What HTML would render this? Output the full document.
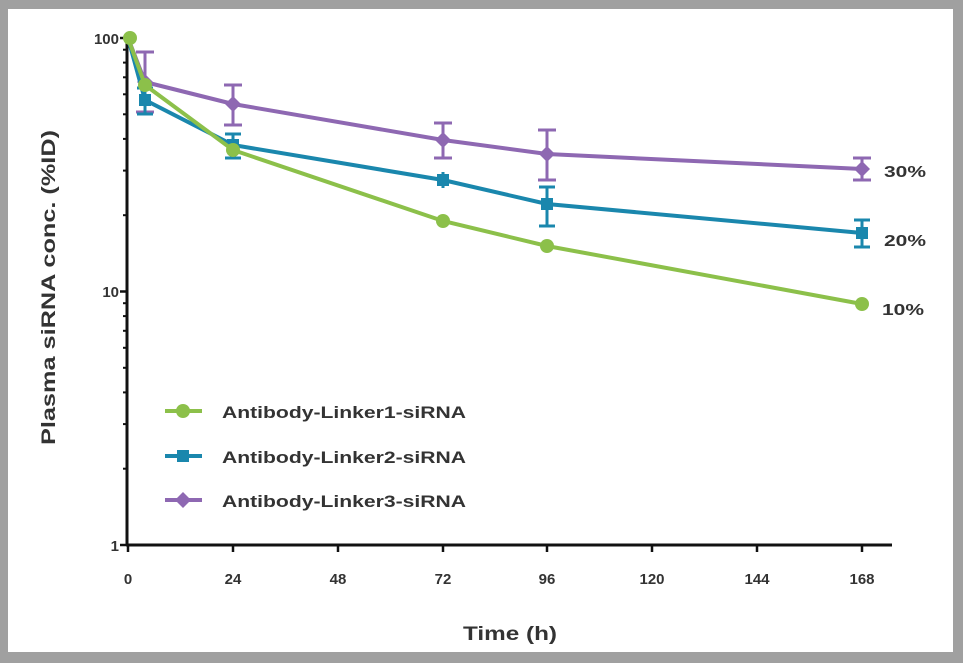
<!DOCTYPE html>
<html><head><meta charset="utf-8"><style>
html,body{margin:0;padding:0;background:#fff}
svg{display:block}
text{font-family:"Liberation Sans",sans-serif;font-weight:bold;fill:#333}
</style></head><body>
<svg width="963" height="663" viewBox="0 0 963 663" xmlns="http://www.w3.org/2000/svg">
<rect x="0" y="0" width="963" height="663" fill="#a0a0a0"/>
<rect x="8" y="9" width="945" height="643" fill="#fff"/>
<g stroke="#111" stroke-width="3" fill="none">
<line x1="127" y1="37" x2="127" y2="546"/>
<line x1="126" y1="545" x2="892" y2="545"/>
</g>
<g stroke="#111" stroke-width="2.5">
<line x1="120" y1="38" x2="127" y2="38"/>
<line x1="120" y1="291.5" x2="127" y2="291.5"/>
<line x1="120" y1="545" x2="127" y2="545"/>
<line x1="128" y1="545" x2="128" y2="552"/>
<line x1="233" y1="545" x2="233" y2="552"/>
<line x1="338" y1="545" x2="338" y2="552"/>
<line x1="443" y1="545" x2="443" y2="552"/>
<line x1="547" y1="545" x2="547" y2="552"/>
<line x1="652" y1="545" x2="652" y2="552"/>
<line x1="757" y1="545" x2="757" y2="552"/>
<line x1="862" y1="545" x2="862" y2="552"/>
</g>
<g stroke="#111" stroke-width="2">
<line x1="123" y1="468.7" x2="127" y2="468.7"/><line x1="123" y1="424.1" x2="127" y2="424.1"/>
<line x1="123" y1="392.4" x2="127" y2="392.4"/><line x1="123" y1="367.8" x2="127" y2="367.8"/>
<line x1="123" y1="347.8" x2="127" y2="347.8"/><line x1="123" y1="330.8" x2="127" y2="330.8"/>
<line x1="123" y1="316.1" x2="127" y2="316.1"/><line x1="123" y1="303.2" x2="127" y2="303.2"/>
<line x1="123" y1="215.2" x2="127" y2="215.2"/><line x1="123" y1="170.6" x2="127" y2="170.6"/>
<line x1="123" y1="138.9" x2="127" y2="138.9"/><line x1="123" y1="114.3" x2="127" y2="114.3"/>
<line x1="123" y1="94.3" x2="127" y2="94.3"/><line x1="123" y1="77.3" x2="127" y2="77.3"/>
<line x1="123" y1="62.6" x2="127" y2="62.6"/><line x1="123" y1="49.7" x2="127" y2="49.7"/>
</g>
<g font-size="15" text-anchor="end">
<text x="119" y="44">100</text>
<text x="119" y="297">10</text>
<text x="119" y="551">1</text>
</g>
<g font-size="15" text-anchor="middle">
<text x="128" y="584">0</text><text x="233" y="584">24</text><text x="338" y="584">48</text>
<text x="443" y="584">72</text><text x="547" y="584">96</text><text x="652" y="584">120</text>
<text x="757" y="584">144</text><text x="862" y="584">168</text>
</g>
<text x="463" y="640" font-size="19" textLength="94" lengthAdjust="spacingAndGlyphs">Time (h)</text>
<text transform="translate(55,445) rotate(-90)" font-size="19" textLength="315" lengthAdjust="spacingAndGlyphs">Plasma siRNA conc. (%ID)</text>

<g stroke="#8e68b2" stroke-width="4" fill="none">
<polyline points="128,38 145,82 233,104 443,140 547,154 862,169"/>
<g stroke-width="3">
<line x1="145" y1="52" x2="145" y2="112"/><line x1="136" y1="52" x2="154" y2="52"/><line x1="136" y1="112" x2="154" y2="112"/>
<line x1="233" y1="85" x2="233" y2="125"/><line x1="224" y1="85" x2="242" y2="85"/><line x1="224" y1="125" x2="242" y2="125"/>
<line x1="443" y1="123" x2="443" y2="158"/><line x1="434" y1="123" x2="452" y2="123"/><line x1="434" y1="158" x2="452" y2="158"/>
<line x1="547" y1="130" x2="547" y2="180"/><line x1="538" y1="130" x2="556" y2="130"/><line x1="538" y1="180" x2="556" y2="180"/>
<line x1="862" y1="158" x2="862" y2="180"/><line x1="853" y1="158" x2="871" y2="158"/><line x1="853" y1="180" x2="871" y2="180"/>
</g></g>
<g fill="#8e68b2">
<polygon points="145,74 153,82 145,90 137,82"/><polygon points="233,96 241,104 233,112 225,104"/>
<polygon points="443,132 451,140 443,148 435,140"/><polygon points="547,146 555,154 547,162 539,154"/>
<polygon points="862,161 870,169 862,177 854,169"/>
</g>
<g stroke="#1a87ad" stroke-width="4" fill="none">
<polyline points="128,38 145,100 233,145 443,180 547,204 862,233"/>
<g stroke-width="3">
<line x1="145" y1="88" x2="145" y2="114"/><line x1="137" y1="88" x2="153" y2="88"/><line x1="137" y1="114" x2="153" y2="114"/>
<line x1="233" y1="134" x2="233" y2="158"/><line x1="225" y1="134" x2="241" y2="134"/><line x1="225" y1="158" x2="241" y2="158"/>
<line x1="443" y1="172" x2="443" y2="188"/>
<line x1="547" y1="187" x2="547" y2="226"/><line x1="539" y1="187" x2="555" y2="187"/><line x1="539" y1="226" x2="555" y2="226"/>
<line x1="862" y1="220" x2="862" y2="247"/><line x1="854" y1="220" x2="870" y2="220"/><line x1="854" y1="247" x2="870" y2="247"/>
</g></g>
<g fill="#1a87ad">
<rect x="139" y="94" width="12" height="12"/><rect x="227" y="139" width="12" height="12"/>
<rect x="437" y="174" width="12" height="12"/><rect x="541" y="198" width="12" height="12"/>
<rect x="856" y="227" width="12" height="12"/>
</g>
<g stroke="#8cc04a" stroke-width="4" fill="none">
<polyline points="128,38 145,85 233,150 443,221 547,246 862,304"/>
</g>
<g fill="#8cc04a">
<circle cx="130" cy="38" r="7"/><circle cx="145" cy="85" r="7"/><circle cx="233" cy="150" r="7"/>
<circle cx="443" cy="221" r="7"/><circle cx="547" cy="246" r="7"/><circle cx="862" cy="304" r="7"/>
</g>
<g font-size="16">
<text x="884" y="177" textLength="42" lengthAdjust="spacingAndGlyphs">30%</text>
<text x="884" y="246" textLength="42" lengthAdjust="spacingAndGlyphs">20%</text>
<text x="882" y="315" textLength="42" lengthAdjust="spacingAndGlyphs">10%</text>
</g>
<g stroke-width="4">
<line x1="165" y1="411" x2="202" y2="411" stroke="#8cc04a"/>
<line x1="165" y1="456" x2="202" y2="456" stroke="#1a87ad"/>
<line x1="165" y1="500" x2="202" y2="500" stroke="#8e68b2"/>
</g>
<circle cx="183" cy="411" r="7" fill="#8cc04a"/>
<rect x="177" y="450" width="12" height="12" fill="#1a87ad"/>
<polygon points="183,492 191,500 183,508 175,500" fill="#8e68b2"/>
<g font-size="17">
<text x="222" y="418" textLength="244" lengthAdjust="spacingAndGlyphs">Antibody-Linker1-siRNA</text>
<text x="222" y="463" textLength="244" lengthAdjust="spacingAndGlyphs">Antibody-Linker2-siRNA</text>
<text x="222" y="507" textLength="244" lengthAdjust="spacingAndGlyphs">Antibody-Linker3-siRNA</text>
</g>
</svg>
</body></html>
